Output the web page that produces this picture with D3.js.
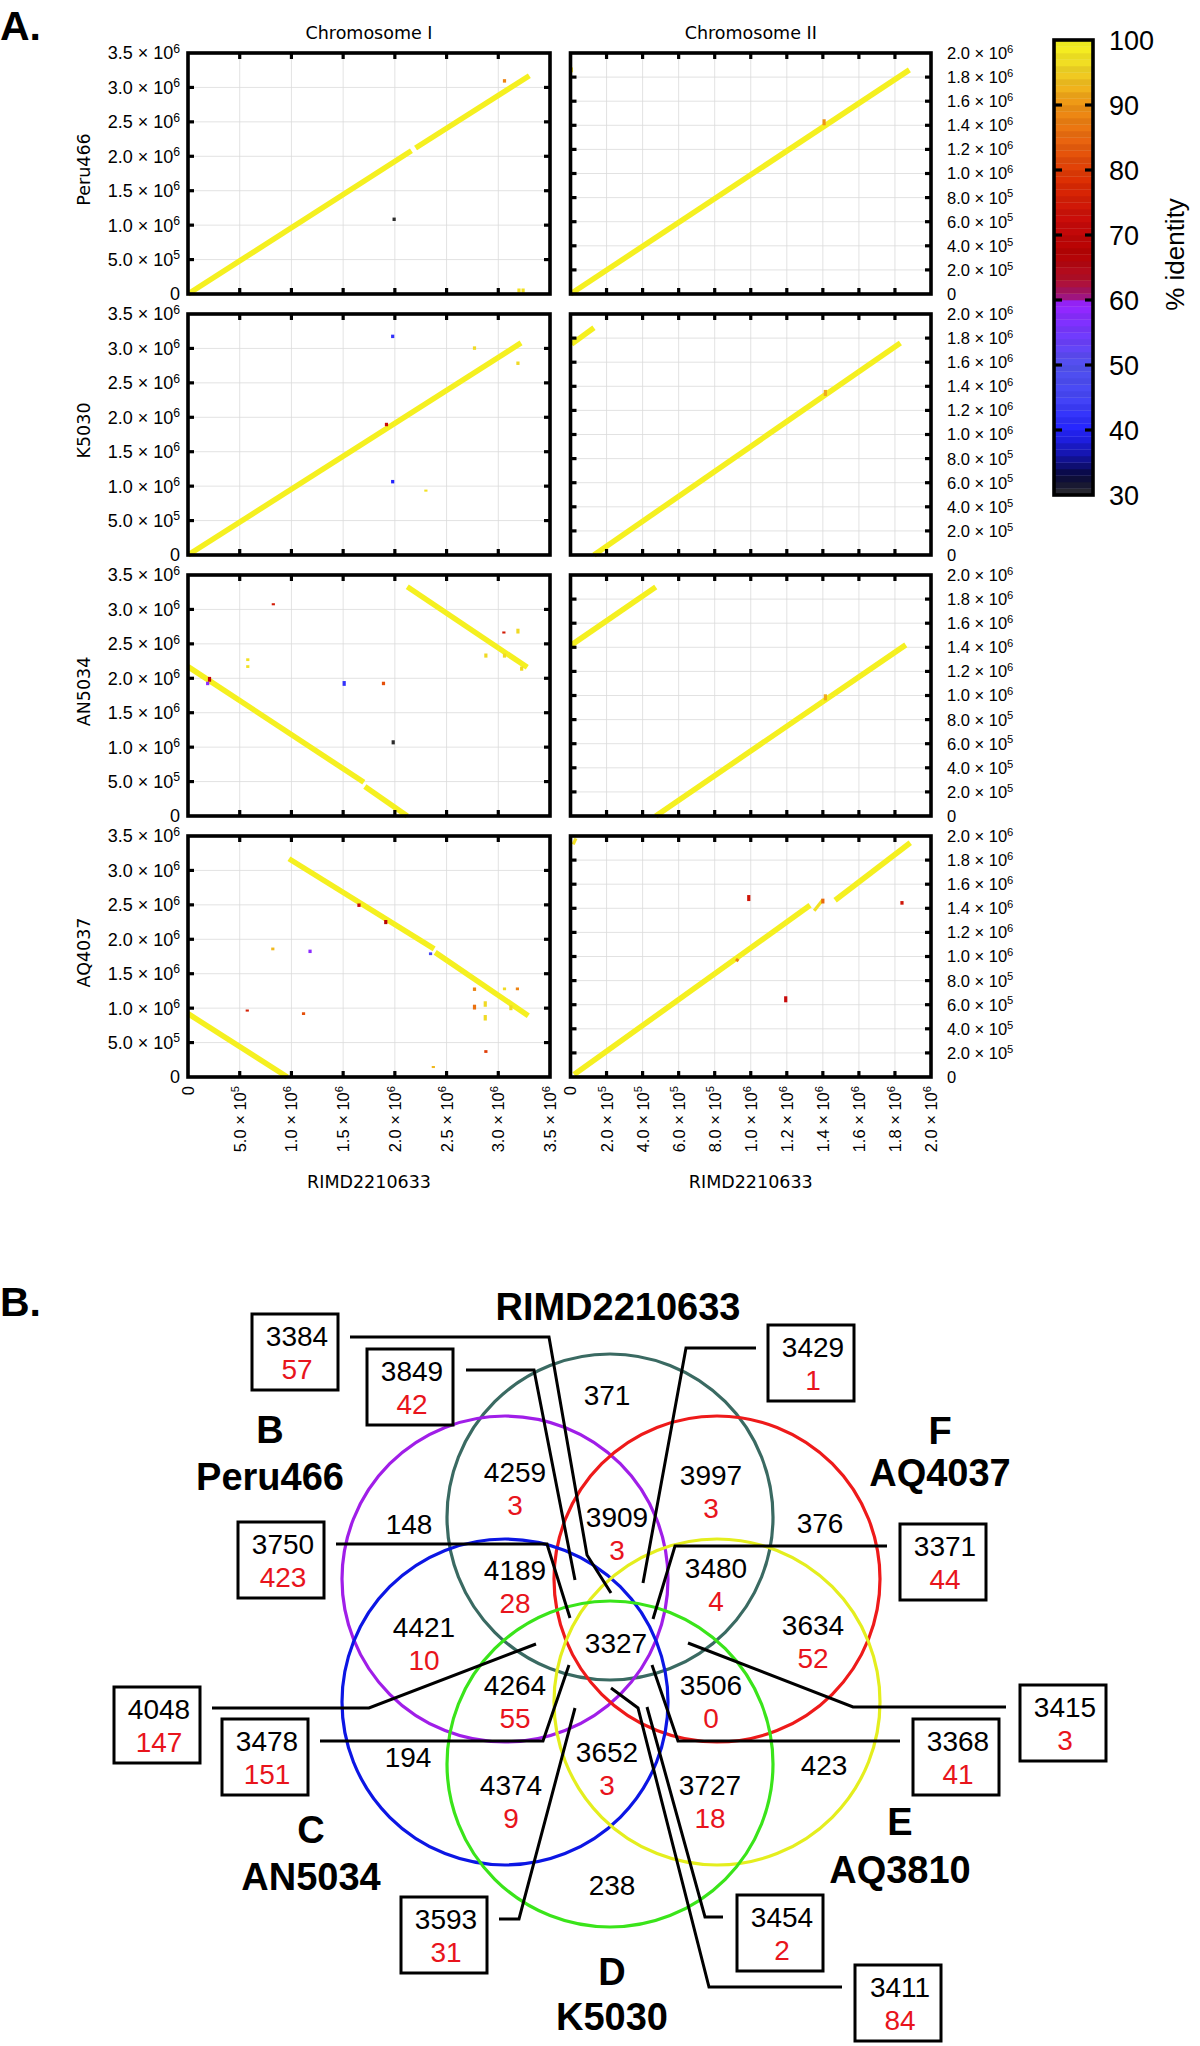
<!DOCTYPE html>
<html>
<head>
<meta charset="utf-8">
<script src="https://cdn.jsdelivr.net/npm/d3@7"></script>
<style>
body { margin: 0; background: #fff; }
svg text { font-family: "Liberation Sans", Arial, sans-serif; }
</style>
</head>
<body>
<svg id="fig" width="1200" height="2046"></svg>
<script>
// ---------- data: dot plots (bp on RIMD2210633 vs bp on strain, % identity) ----------
var strains = ["Peru466", "K5030", "AN5034", "AQ4037"];
var chromTitles = ["Chromosome I", "Chromosome II"];
var chromLen = [3.5e6, 2.0e6];
var ticksI = [0, 5e5, 1e6, 1.5e6, 2e6, 2.5e6, 3e6, 3.5e6];
var ticksII = [0, 2e5, 4e5, 6e5, 8e5, 1e6, 1.2e6, 1.4e6, 1.6e6, 1.8e6, 2e6];
var idTicks = [30, 40, 50, 60, 70, 80, 90, 100];

// [x1, y1, x2, y2, identity]
var peru466_I = [
  [0, 0, 2.16e6, 2.08e6, 99], [2.2e6, 2.12e6, 3.3e6, 3.17e6, 99],
  [1.993e6, 1.06e6, 1.993e6, 1.11e6, 30], [3.06e6, 3.07e6, 3.06e6, 3.12e6, 88],
  [3.2e6, 0.02e6, 3.2e6, 0.08e6, 97], [3.24e6, 0.02e6, 3.24e6, 0.08e6, 97]
];
var peru466_II = [
  [0, 0, 1.88e6, 1.86e6, 99], [1.407e6, 1.40e6, 1.407e6, 1.45e6, 90],
  [0.005e6, 1.84e6, 0.005e6, 1.88e6, 97]
];
var k5030_I = [
  [0, 0, 3.22e6, 3.08e6, 99],
  [1.979e6, 3.15e6, 1.979e6, 3.2e6, 42], [1.919e6, 1.87e6, 1.919e6, 1.92e6, 72],
  [1.979e6, 1.04e6, 1.979e6, 1.09e6, 40], [2.30e6, 0.92e6, 2.30e6, 0.95e6, 97],
  [2.77e6, 2.98e6, 2.77e6, 3.03e6, 96], [3.19e6, 2.76e6, 3.19e6, 2.81e6, 96]
];
var k5030_II = [
  [0.006e6, 1.75e6, 0.13e6, 1.886e6, 99], [0.13e6, 0, 1.83e6, 1.76e6, 99],
  [1.414e6, 1.32e6, 1.414e6, 1.37e6, 92]
];
var an5034_I = [
  [0, 2.17e6, 1.70e6, 0.49e6, 99], [1.71e6, 0.43e6, 2.12e6, 0, 99],
  [2.12e6, 3.33e6, 3.28e6, 2.16e6, 99],
  [0.825e6, 3.06e6, 0.825e6, 3.09e6, 75], [0.578e6, 2.25e6, 0.578e6, 2.29e6, 97],
  [0.578e6, 2.15e6, 0.578e6, 2.19e6, 97], [0.208e6, 1.95e6, 0.208e6, 2.02e6, 70],
  [0.19e6, 1.90e6, 0.19e6, 1.95e6, 58], [1.51e6, 1.89e6, 1.51e6, 1.96e6, 42],
  [1.89e6, 1.90e6, 1.89e6, 1.95e6, 82], [1.984e6, 1.04e6, 1.984e6, 1.10e6, 30],
  [3.054e6, 2.65e6, 3.054e6, 2.68e6, 75], [3.19e6, 2.65e6, 3.19e6, 2.72e6, 96],
  [2.88e6, 2.30e6, 2.88e6, 2.36e6, 96], [3.06e6, 2.30e6, 3.06e6, 2.36e6, 96],
  [3.226e6, 2.11e6, 3.226e6, 2.17e6, 96]
];
var an5034_II = [
  [0.006e6, 1.42e6, 0.473e6, 1.90e6, 99], [0.473e6, 0, 1.86e6, 1.42e6, 99],
  [1.414e6, 0.96e6, 1.414e6, 1.01e6, 92]
];
var aq4037_I = [
  [0, 0.92e6, 0.96e6, 0, 99], [0.976e6, 3.17e6, 2.38e6, 1.86e6, 99],
  [2.39e6, 1.81e6, 3.29e6, 0.89e6, 99],
  [1.653e6, 2.47e6, 1.653e6, 2.52e6, 72], [1.912e6, 2.22e6, 1.912e6, 2.28e6, 68],
  [2.345e6, 1.77e6, 2.345e6, 1.81e6, 45], [0.82e6, 1.84e6, 0.82e6, 1.88e6, 93],
  [1.18e6, 1.80e6, 1.18e6, 1.85e6, 58], [0.573e6, 0.95e6, 0.573e6, 0.98e6, 76],
  [1.117e6, 0.90e6, 1.117e6, 0.94e6, 82], [2.77e6, 1.25e6, 2.77e6, 1.30e6, 88],
  [2.77e6, 0.98e6, 2.77e6, 1.05e6, 86], [2.874e6, 1.02e6, 2.874e6, 1.10e6, 96],
  [2.874e6, 0.82e6, 2.874e6, 0.90e6, 96], [3.06e6, 1.26e6, 3.06e6, 1.30e6, 96],
  [3.185e6, 1.26e6, 3.185e6, 1.30e6, 88], [3.122e6, 0.97e6, 3.122e6, 1.04e6, 96],
  [2.88e6, 0.35e6, 2.88e6, 0.39e6, 80], [2.372e6, 0.13e6, 2.372e6, 0.16e6, 93]
];
var aq4037_II = [
  [0.02e6, 0.02e6, 1.329e6, 1.425e6, 99], [1.352e6, 1.38e6, 1.40e6, 1.47e6, 97],
  [1.468e6, 1.467e6, 1.885e6, 1.944e6, 99], [0.015e6, 1.93e6, 0.03e6, 1.98e6, 97],
  [0.989e6, 1.46e6, 0.989e6, 1.51e6, 74], [1.194e6, 0.62e6, 1.194e6, 0.67e6, 72],
  [1.839e6, 1.43e6, 1.839e6, 1.46e6, 74], [0.92e6, 0.96e6, 0.93e6, 0.98e6, 88],
  [1.40e6, 1.44e6, 1.40e6, 1.48e6, 85]
];
var alignI = [peru466_I, k5030_I, an5034_I, aq4037_I];
var alignII = [peru466_II, k5030_II, an5034_II, aq4037_II];

// ---------- data: Venn diagram ----------
var vennNames = ["RIMD2210633", "Peru466", "AQ4037", "AN5034", "AQ3810", "K5030"];
var vennLetters = ["", "B", "F", "C", "E", "D"];
var regionCounts = [371, 4259, 3997, 3909, 148, 376, 4189, 3480, 4421, 3327, 3634, 4264, 3506, 194, 423, 4374, 3652, 3727, 238];
var regionUnique = [null, 3, 3, 3, null, null, 28, 4, 10, null, 52, 55, 0, null, null, 9, 3, 18, null];
var boxCounts = [3384, 3849, 3750, 3429, 3371, 4048, 3478, 3593, 3415, 3368, 3454, 3411];
var boxUnique = [57, 42, 423, 1, 44, 147, 151, 31, 3, 41, 2, 84];

// ---------- layout ----------
var svg = d3.select("#fig");
var colX = [[188, 550], [570.5, 931]];
var rowTop = [53, 314, 575, 836], panelH = 241;

var idStops = [30, 33, 36, 40, 45, 50, 55, 59.9, 60, 63, 67, 72, 78, 84, 90, 93, 96, 100];
var idColors = ["#2c2c2c", "#08083c", "#1414a8", "#2424ff", "#4646f6", "#5252ee", "#7438ff", "#9c22ff",
  "#9c1690", "#b0102c", "#b40202", "#c80a0a", "#dc2c02", "#e8600e", "#ef9414", "#f0b81e", "#f0da24", "#f7f71f"];
var idColor = d3.scaleLinear().domain(idStops).range(idColors);

function sciParts(v) {
  if (v === 0) return ["0", null];
  var e = Math.floor(Math.log10(v) + 1e-9);
  return [(v / Math.pow(10, e)).toFixed(1) + " \u00d7 10", e];
}
function sciText(sel, v) {
  var p = sciParts(v);
  sel.append("tspan").text(p[0]);
  if (p[1] !== null) sel.append("tspan").attr("font-size", "0.68em").attr("dy", "-0.55em").text(p[1]);
}

// panel label
svg.append("text").attr("x", 0).attr("y", 40).attr("font-size", 41).attr("font-weight", "bold").text("A.");

// chromosome titles
chromTitles.forEach(function(t, c) {
  svg.append("text").attr("x", (colX[c][0] + colX[c][1]) / 2).attr("y", 39)
    .attr("text-anchor", "middle").style("font-family", "'DejaVu Sans', sans-serif")
    .attr("font-size", 17.5).text(t);
  svg.append("text").attr("x", (colX[c][0] + colX[c][1]) / 2).attr("y", 1188)
    .attr("text-anchor", "middle").style("font-family", "'DejaVu Sans', sans-serif")
    .attr("font-size", 17.5).text("RIMD2210633");
});

strains.forEach(function(name, r) {
  var top = rowTop[r], bot = top + panelH;
  svg.append("text")
    .attr("transform", "translate(90," + (top + panelH / 2 - 4) + ") rotate(-90)")
    .attr("text-anchor", "middle").style("font-family", "'DejaVu Sans', sans-serif")
    .attr("font-size", 17.5).text(name);

  [0, 1].forEach(function(c) {
    var ticks = c === 0 ? ticksI : ticksII;
    var x = d3.scaleLinear().domain([0, chromLen[c]]).range(colX[c]);
    var y = d3.scaleLinear().domain([0, chromLen[c]]).range([bot, top]);
    var g = svg.append("g");

    // grid
    g.selectAll(".gx").data(ticks.slice(1, -1)).enter().append("line")
      .attr("x1", function(d) { return x(d); }).attr("x2", function(d) { return x(d); })
      .attr("y1", top).attr("y2", bot).attr("stroke", "#dadada").attr("stroke-width", 0.8);
    g.selectAll(".gy").data(ticks.slice(1, -1)).enter().append("line")
      .attr("y1", function(d) { return y(d); }).attr("y2", function(d) { return y(d); })
      .attr("x1", colX[c][0]).attr("x2", colX[c][1]).attr("stroke", "#dadada").attr("stroke-width", 0.8);

    // alignments
    var segs = c === 0 ? alignI[r] : alignII[r];
    g.selectAll(".seg").data(segs).enter().append("line")
      .attr("x1", function(d) { return x(d[0]); }).attr("y1", function(d) { return y(d[1]); })
      .attr("x2", function(d) { return x(d[2]); }).attr("y2", function(d) { return y(d[3]); })
      .attr("stroke", function(d) { return idColor(d[4]); })
      .attr("stroke-width", function(d) {
        var len = Math.hypot(x(d[2]) - x(d[0]), y(d[3]) - y(d[1]));
        return len < 20 ? 3.2 : 5.5;
      });

    // inner ticks on all sides
    var tl = 6;
    ticks.slice(1, -1).forEach(function(t) {
      g.append("line").attr("x1", x(t)).attr("x2", x(t)).attr("y1", bot).attr("y2", bot - tl);
      g.append("line").attr("x1", x(t)).attr("x2", x(t)).attr("y1", top).attr("y2", top + tl);
      g.append("line").attr("y1", y(t)).attr("y2", y(t)).attr("x1", colX[c][0]).attr("x2", colX[c][0] + tl);
      g.append("line").attr("y1", y(t)).attr("y2", y(t)).attr("x1", colX[c][1]).attr("x2", colX[c][1] - tl);
    });
    g.selectAll("line:not([stroke])").attr("stroke", "#000").attr("stroke-width", 3.2);

    // frame
    g.append("rect").attr("x", colX[c][0]).attr("y", top)
      .attr("width", colX[c][1] - colX[c][0]).attr("height", panelH)
      .attr("fill", "none").attr("stroke", "#000").attr("stroke-width", 3.6);

    // y labels
    ticks.forEach(function(t) {
      var lab = g.append("text").attr("y", y(t)).attr("dy", "0.36em");
      if (c === 0) lab.attr("x", colX[0][0] - 8).attr("text-anchor", "end").attr("font-size", 18);
      else lab.attr("x", colX[1][1] + 16).attr("text-anchor", "start").attr("font-size", 16.5);
      sciText(lab, t);
    });

    // x labels on bottom row
    if (r === strains.length - 1) {
      ticks.forEach(function(t) {
        var lab = g.append("text")
          .attr("transform", "translate(" + x(t) + "," + (bot + 9) + ") rotate(-90)")
          .attr("dy", "0.36em").attr("text-anchor", "end").attr("font-size", 16.5);
        sciText(lab, t);
      });
    }
  });
});

// colour bar
var cbX = 1054, cbW = 39;
var cbY = d3.scaleLinear().domain([30, 100]).range([495, 40]);
var cb = svg.append("g");
cb.selectAll("rect.band").data(d3.range(30, 100, 1)).enter().append("rect")
  .attr("x", cbX).attr("width", cbW)
  .attr("y", function(d) { return cbY(d + 1); })
  .attr("height", function(d) { return cbY(d) - cbY(d + 1) + 0.3; })
  .attr("fill", function(d, i) {
    var col = d3.color(idColor(d + 0.5));
    return i % 2 ? col.darker(0.12).formatHex() : col.formatHex();
  });
cb.append("rect").attr("x", cbX).attr("y", cbY(100)).attr("width", cbW).attr("height", cbY(30) - cbY(100))
  .attr("fill", "none").attr("stroke", "#000").attr("stroke-width", 3.6);
idTicks.slice(1, -1).forEach(function(t) {
  cb.append("line").attr("x1", cbX).attr("x2", cbX + 8).attr("y1", cbY(t)).attr("y2", cbY(t))
    .attr("stroke", "#000").attr("stroke-width", 3.2);
  cb.append("line").attr("x1", cbX + cbW - 8).attr("x2", cbX + cbW).attr("y1", cbY(t)).attr("y2", cbY(t))
    .attr("stroke", "#000").attr("stroke-width", 3.2);
});
cb.selectAll("text.idl").data(idTicks).enter().append("text")
  .attr("x", 1109).attr("y", function(d) { return cbY(d); }).attr("dy", "0.36em")
  .attr("font-size", 27).text(function(d) { return d; });
cb.append("text").attr("transform", "translate(1184," + cbY(67) + ") rotate(-90)")
  .attr("text-anchor", "middle").attr("font-size", 26).text("% identity");

// ---------- part B: Venn ----------
svg.append("text").attr("x", 0).attr("y", 1316).attr("font-size", 41).attr("font-weight", "bold").text("B.");

var vennCenters = [[610, 1517], [505, 1579], [717, 1579], [505, 1702], [717, 1702], [610, 1764]];
var vennColors = ["#3a6a62", "#a01ee8", "#ee1a1a", "#0c16e4", "#e4ee1e", "#3ae41a"];
var vennR = 163;
var nameBase = [[618, 0, 1320], [270, 1443, 1490], [940, 1444, 1486], [311, 1843, 1890], [900, 1835, 1883], [612, 1985, 2030]];

var vg = svg.append("g");
vg.selectAll("circle").data(vennCenters).enter().append("circle")
  .attr("cx", function(d) { return d[0]; }).attr("cy", function(d) { return d[1]; })
  .attr("r", vennR).attr("fill", "none")
  .attr("stroke", function(d, i) { return vennColors[i]; }).attr("stroke-width", 3.2);

var leaders = [
  [[350, 1337], [549, 1337], [587, 1555], [611, 1593]],
  [[466, 1370], [534, 1370], [575, 1580]],
  [[336, 1544], [547, 1544], [570, 1618]],
  [[756, 1348], [686, 1348], [643, 1583]],
  [[887, 1546], [675, 1546], [653, 1619]],
  [[212, 1708], [369, 1708], [536, 1644]],
  [[320, 1741], [543, 1741], [569, 1665]],
  [[499, 1919], [519, 1919], [575, 1708]],
  [[1006, 1707], [853, 1707], [688, 1643]],
  [[900, 1741], [678, 1741], [652, 1665]],
  [[723, 1917], [705, 1917], [647, 1707]],
  [[842, 1987], [709, 1987], [638, 1708], [611, 1688]]
];
var boxPos = [[252, 1314], [367, 1349], [238, 1522], [768, 1325], [900, 1524], [114, 1687],
  [222, 1719], [401, 1897], [1020, 1685], [913, 1719], [737, 1895], [855, 1965]];
var line = d3.line();
vg.selectAll("path.lead").data(leaders).enter().append("path")
  .attr("d", function(d) { return line(d); })
  .attr("fill", "none").attr("stroke", "#000").attr("stroke-width", 3);

boxPos.forEach(function(p, i) {
  vg.append("rect").attr("x", p[0]).attr("y", p[1]).attr("width", 86).attr("height", 76)
    .attr("fill", "#fff").attr("stroke", "#000").attr("stroke-width", 3);
  vg.append("text").attr("x", p[0] + 45).attr("y", p[1] + 32).attr("text-anchor", "middle")
    .attr("font-size", 28).text(boxCounts[i]);
  vg.append("text").attr("x", p[0] + 45).attr("y", p[1] + 65).attr("text-anchor", "middle")
    .attr("font-size", 28).attr("fill", "#e8141c").text(boxUnique[i]);
});

var regionPos = [[607, 1405], [515, 1482], [711, 1485], [617, 1527], [409, 1534], [820, 1533],
  [515, 1580], [716, 1578], [424, 1637], [616, 1653], [813, 1635], [515, 1695], [711, 1695],
  [408, 1767], [824, 1775], [511, 1795], [607, 1762], [710, 1795], [612, 1895]];
regionPos.forEach(function(p, i) {
  vg.append("text").attr("x", p[0]).attr("y", p[1]).attr("text-anchor", "middle")
    .attr("font-size", 28).text(regionCounts[i]);
  if (regionUnique[i] !== null) {
    vg.append("text").attr("x", p[0]).attr("y", p[1] + 33).attr("text-anchor", "middle")
      .attr("font-size", 28).attr("fill", "#e8141c").text(regionUnique[i]);
  }
});

vennNames.forEach(function(n, i) {
  var nb = nameBase[i];
  if (vennLetters[i]) {
    vg.append("text").attr("x", nb[0]).attr("y", nb[1]).attr("text-anchor", "middle")
      .attr("font-size", 38).attr("font-weight", "bold").text(vennLetters[i]);
  }
  vg.append("text").attr("x", nb[0]).attr("y", nb[2]).attr("text-anchor", "middle")
    .attr("font-size", 38).attr("font-weight", "bold").text(n);
});
</script>
</body>
</html>
